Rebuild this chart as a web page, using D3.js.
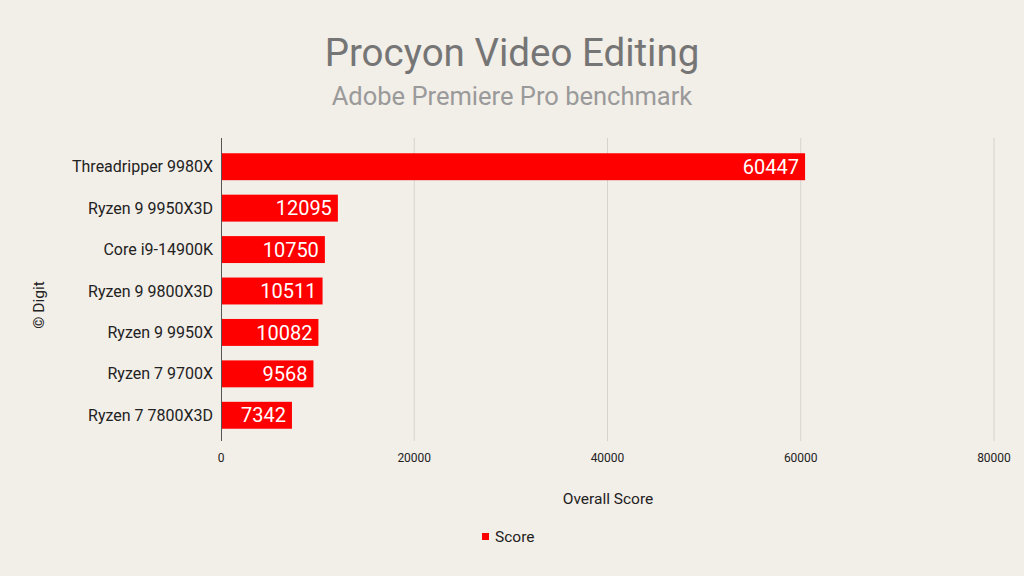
<!DOCTYPE html>
<html><head><meta charset="utf-8">
<script src="https://cdn.jsdelivr.net/npm/d3@7"></script>
<style>
html,body{margin:0;padding:0;background:#f2eee8;}
svg{display:block;font-family:Roboto,"Noto Sans",sans-serif;}
</style></head>
<body>
<svg id="c" width="1024" height="576"></svg>
<script>
const categories = ["Threadripper 9980X","Ryzen 9 9950X3D","Core i9-14900K","Ryzen 9 9800X3D","Ryzen 9 9950X","Ryzen 7 9700X","Ryzen 7 7800X3D"];
const scores = [60447,12095,10750,10511,10082,9568,7342];
const xTicks = [0,20000,40000,60000,80000];

const svg = d3.select("#c");
svg.append("rect").attr("width",1024).attr("height",576).attr("fill","#f2eee8");

const x = d3.scaleLinear().domain([0,80000]).range([221,994]);
const y = d3.scaleBand().domain(categories).range([146,436]).paddingInner(0.35).paddingOuter(0.175);

// gridlines
svg.append("g").selectAll("line").data(xTicks.slice(1)).join("line")
  .attr("x1",d=>x(d)).attr("x2",d=>x(d)).attr("y1",138).attr("y2",441)
  .attr("stroke","#d6d2cc").attr("stroke-width",1);

// bars
svg.append("g").selectAll("rect").data(categories).join("rect")
  .attr("x",x(0)).attr("y",d=>y(d)).attr("height",y.bandwidth())
  .attr("width",(d,i)=>x(scores[i])-x(0)).attr("fill","#ff0000");

// value labels
svg.append("g").selectAll("text").data(categories).join("text")
  .attr("x",(d,i)=>x(scores[i])-6).attr("y",d=>y(d)+y.bandwidth()/2)
  .attr("dy","0.36em").attr("text-anchor","end").attr("fill","#ffffff")
  .attr("font-size",20).text((d,i)=>scores[i]);

// y axis line
svg.append("line").attr("x1",x(0)+0.5).attr("x2",x(0)+0.5).attr("y1",138).attr("y2",441)
  .attr("stroke","#555").attr("stroke-width",1);

// category labels
svg.append("g").selectAll("text").data(categories).join("text")
  .attr("x",213).attr("y",d=>y(d)+y.bandwidth()/2).attr("dy","0.35em")
  .attr("text-anchor","end").attr("fill","#222").attr("font-size",16).text(d=>d);

// x tick labels
svg.append("g").selectAll("text").data(xTicks).join("text")
  .attr("x",d=>x(d)).attr("y",462).attr("text-anchor","middle")
  .attr("fill","#222").attr("font-size",12).text(d=>d);

// titles
svg.append("text").attr("x",512).attr("y",66).attr("text-anchor","middle")
  .attr("fill","#757575").attr("font-size",38.5).text("Procyon Video Editing");
svg.append("text").attr("x",512).attr("y",105).attr("text-anchor","middle")
  .attr("fill","#9a9a9a").attr("font-size",25.5).text("Adobe Premiere Pro benchmark");

// x axis title
svg.append("text").attr("x",608).attr("y",504).attr("text-anchor","middle")
  .attr("fill","#222").attr("font-size",15.5).text("Overall Score");

// y axis title
svg.append("text").attr("transform","translate(44,305) rotate(-90)").attr("text-anchor","middle")
  .attr("fill","#222").attr("font-size",15.5).text("© Digit");

// legend
svg.append("rect").attr("x",482).attr("y",533).attr("width",7).attr("height",7).attr("fill","#ff0000");
svg.append("text").attr("x",495).attr("y",542).attr("fill","#222").attr("font-size",15.5).text("Score");
</script>
</body></html>
